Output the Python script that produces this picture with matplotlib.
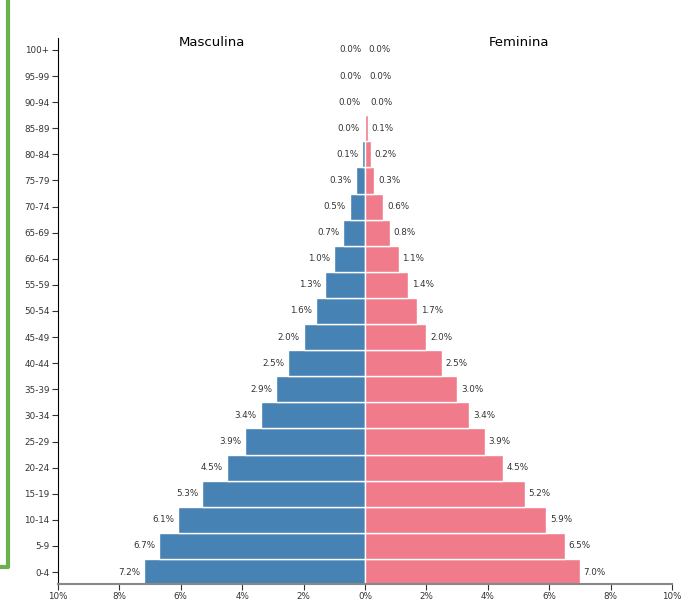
import matplotlib.pyplot as plt
from matplotlib.lines import Line2D

ages = ["0-4", "5-9", "10-14", "15-19", "20-24", "25-29", "30-34", "35-39", "40-44",
        "45-49", "50-54", "55-59", "60-64", "65-69", "70-74", "75-79", "80-84",
        "85-89", "90-94", "95-99", "100+"]
male = [7.2, 6.7, 6.1, 5.3, 4.5, 3.9, 3.4, 2.9, 2.5, 2.0, 1.6, 1.3, 1.0, 0.7, 0.5,
        0.3, 0.1, 0.04, 0.02, 0.0, 0.0]
female = [7.0, 6.5, 5.9, 5.2, 4.5, 3.9, 3.4, 3.0, 2.5, 2.0, 1.7, 1.4, 1.1, 0.8, 0.6,
          0.3, 0.2, 0.1, 0.04, 0.01, 0.0]
xticks = [-10, -8, -6, -4, -2, 0, 2, 4, 6, 8, 10]

fig = plt.figure(figsize=(6.88, 6.11), dpi=100)
ax = fig.add_axes([0.084, 0.044, 0.893, 0.894])

y = range(len(ages))
ax.barh(y, [-v for v in male], height=1.0, color="#4682b4", edgecolor="white", linewidth=1)
ax.barh(y, female, height=1.0, color="#f07b8b", edgecolor="white", linewidth=1)

for i in y:
    ax.text(-male[i] - 0.12, i, f"{male[i]:.1f}%", ha="right", va="center", fontsize=6.3, color="#333")
    ax.text(female[i] + 0.12, i, f"{female[i]:.1f}%", ha="left", va="center", fontsize=6.3, color="#333")

ax.set_xlim(-10, 10)
ax.set_ylim(-0.46, len(ages) - 0.54)
ax.set_yticks(list(y))
ax.set_yticklabels(ages, fontsize=6.3)
ax.set_xticks(xticks)
ax.set_xticklabels([f"{abs(t)}%" for t in xticks], fontsize=6.3)
ax.tick_params(length=4, width=0.8, pad=2, colors="#333")
for s in ["top", "right"]:
    ax.spines[s].set_visible(False)
ax.spines["bottom"].set_color("#888")
ax.spines["bottom"].set_linewidth(1.5)

fig.text(212 / 688, 1 - 43 / 611, "Masculina", ha="center", va="center", fontsize=9.5)
fig.text(519 / 688, 1 - 43 / 611, "Feminina", ha="center", va="center", fontsize=9.5)

# green frame on left edge
fig.add_artist(Line2D([8 / 688, 8 / 688, 0], [1.0, 1 - 567 / 611, 1 - 567 / 611],
                      transform=fig.transFigure, color="#6ab04c", linewidth=3))

fig.savefig("out.png", dpi=100)
